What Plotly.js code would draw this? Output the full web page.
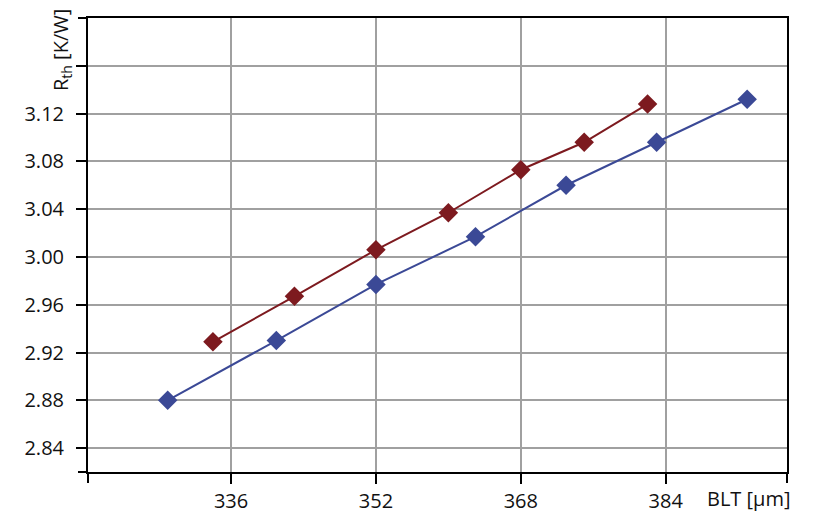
<!DOCTYPE html>
<html>
<head>
<meta charset="utf-8">
<script src="https://cdn.plot.ly/plotly-3.0.1.min.js"></script>
<style>html,body{margin:0;padding:0;background:#fff;}#chart{width:820px;height:516px;}</style>
</head>
<body>
<div id="chart"></div>
<script>
// BLT [µm] and Rth [K/W] values
const redBLT = [334, 343, 352, 360, 368, 375, 382];
const redRth = [2.929, 2.967, 3.006, 3.037, 3.073, 3.096, 3.128];
const blueBLT = [329, 341, 352, 363, 373, 383, 393];
const blueRth = [2.880, 2.930, 2.977, 3.017, 3.060, 3.096, 3.132];
const xTickVals = [336, 352, 368, 384];
const xTickText = ['336', '352', '368', '384'];
const yTickVals = [2.84, 2.88, 2.92, 2.96, 3.00, 3.04, 3.08, 3.12, 3.16];
const yTickText = ['2.84', '2.88', '2.92', '2.96', '3.00', '3.04', '3.08', '3.12', ''];

const RED = '#7d1a1f';
const BLUE = '#3b4996';
const FONT = {family: 'Open Sans, Noto Sans, sans-serif', size: 20, color: '#111'};

const traces = [
  {x: blueBLT, y: blueRth, mode: 'lines+markers', type: 'scatter',
   line: {color: BLUE, width: 2}, marker: {symbol: 'diamond', size: 15, color: BLUE}},
  {x: redBLT, y: redRth, mode: 'lines+markers', type: 'scatter',
   line: {color: RED, width: 2}, marker: {symbol: 'diamond', size: 15, color: RED}}
];

const W = 699, H = 454;
const layout = {
  width: 820, height: 516,
  margin: {l: 88, r: 33, t: 18, b: 44},
  paper_bgcolor: '#fff', plot_bgcolor: '#fff',
  showlegend: false,
  font: FONT,
  xaxis: {
    range: [320.2, 397.4], tickvals: xTickVals, ticktext: xTickText,
    showgrid: true, gridcolor: '#a0a0a0', gridwidth: 2,
    showline: true, linecolor: '#000', linewidth: 2, mirror: true,
    ticks: 'outside', ticklen: 10, tickwidth: 2, tickcolor: '#000',
    zeroline: false, tickfont: FONT, ticklabelstandoff: 0
  },
  yaxis: {
    range: [2.82, 3.2], tickvals: yTickVals, ticktext: yTickText,
    showgrid: true, gridcolor: '#a0a0a0', gridwidth: 2,
    showline: true, linecolor: '#000', linewidth: 2, mirror: true,
    ticks: 'outside', ticklen: 10, tickwidth: 2, tickcolor: '#000',
    zeroline: false, tickfont: FONT, ticklabelstandoff: 8
  },
  shapes: [
    {type: 'line', xref: 'paper', yref: 'paper', x0: -10 / W, x1: 0, y0: 0, y1: 0, line: {color: '#000', width: 2}},
    {type: 'line', xref: 'paper', yref: 'paper', x0: -10 / W, x1: 0, y0: 1, y1: 1, line: {color: '#000', width: 2}},
    {type: 'line', xref: 'paper', yref: 'paper', x0: 0, x1: 0, y0: -11 / H, y1: 0, line: {color: '#000', width: 2}},
    {type: 'line', xref: 'paper', yref: 'paper', x0: 1, x1: 1, y0: -11 / H, y1: 0, line: {color: '#000', width: 2}}
  ],
  annotations: [
    {text: 'R<sub>th</sub> [K/W]', xref: 'paper', yref: 'paper', x: -27 / W, y: (472 - 50) / H,
     xanchor: 'center', yanchor: 'middle', textangle: -90, showarrow: false, font: FONT},
    {text: 'BLT [µm]', xref: 'paper', yref: 'paper', x: 1 + 6 / W, y: 0, yshift: -11,
     xanchor: 'right', yanchor: 'top', showarrow: false, font: FONT}
  ]
};

Plotly.newPlot('chart', traces, layout, {displayModeBar: false, staticPlot: true});
</script>
</body>
</html>
